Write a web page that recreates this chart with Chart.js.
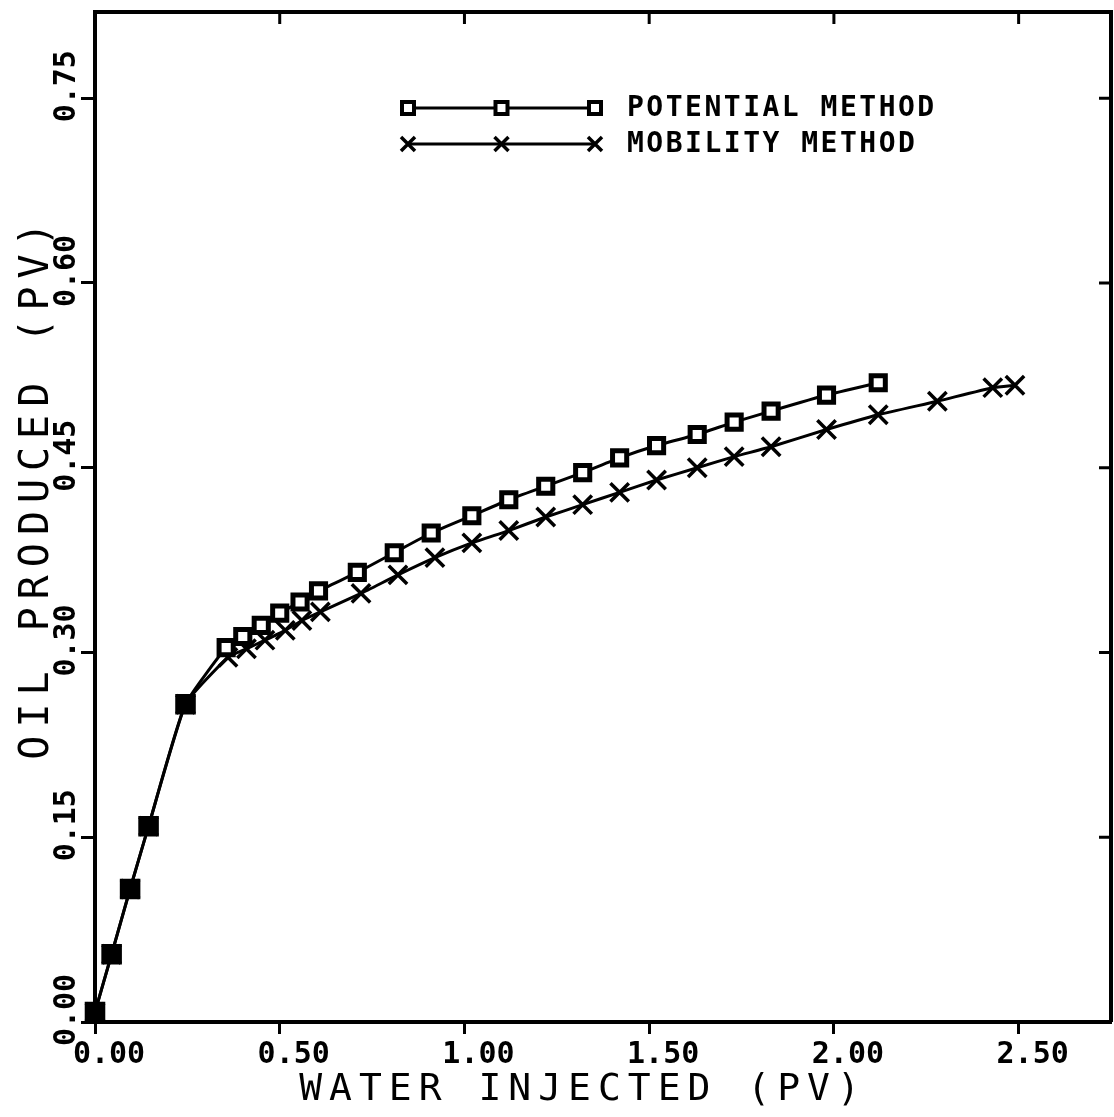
<!DOCTYPE html>
<html>
<head>
<meta charset="utf-8">
<script src="https://cdn.jsdelivr.net/npm/chart.js@4.4.1/dist/chart.umd.min.js"></script>
<style>
  html, body { margin: 0; padding: 0; background: #fff; }
</style>
</head>
<body>
<canvas id="oilChart" width="1114" height="1117"></canvas>
<script>
// water injected (PV) / oil produced (PV)
const potentialX = [0, 0.045, 0.095, 0.145, 0.245, 0.355, 0.40, 0.45, 0.50, 0.555, 0.605, 0.71, 0.81, 0.91,
    1.02, 1.12, 1.22, 1.32, 1.42, 1.52, 1.63, 1.73, 1.83, 1.98, 2.12];
const potentialY = [0.008, 0.055, 0.108, 0.159, 0.258, 0.304, 0.313, 0.322, 0.332, 0.341, 0.350, 0.365, 0.381, 0.397,
    0.411, 0.424, 0.435, 0.446, 0.458, 0.468, 0.477, 0.487, 0.496, 0.509, 0.519];
const mobilityX = [0, 0.045, 0.095, 0.145, 0.245, 0.36, 0.41, 0.46, 0.515, 0.56, 0.61, 0.72, 0.82, 0.92,
    1.02, 1.12, 1.22, 1.32, 1.42, 1.52, 1.63, 1.73, 1.83, 1.98, 2.12, 2.28, 2.43, 2.49];
const mobilityY = [0.008, 0.055, 0.108, 0.159, 0.258, 0.296, 0.303, 0.310, 0.318, 0.326, 0.333, 0.348, 0.363, 0.377,
    0.389, 0.399, 0.410, 0.420, 0.430, 0.440, 0.450, 0.459, 0.467, 0.481, 0.493, 0.504, 0.515, 0.517];

const xTickValues = [0, 0.5, 1.0, 1.5, 2.0, 2.5];
const xTickLabels = ["0.00", "0.50", "1.00", "1.50", "2.00", "2.50"];
const yTickValues = [0, 0.15, 0.30, 0.45, 0.60, 0.75];
const yTickLabels = ["0.00", "0.15", "0.30", "0.45", "0.60", "0.75"];

const seriesNames = ["POTENTIAL METHOD", "MOBILITY METHOD"];
const xTitle = "WATER INJECTED (PV)";
const yTitle = "OIL PRODUCED (PV)";

const MONO = "'DejaVu Sans Mono', monospace";

function toPoints(xs, ys) {
    return xs.map((x, i) => ({ x: x, y: ys[i] }));
}

function drawMark(ctx, style, cx, cy, r) {
    ctx.beginPath();
    if (style === "rect") {
        ctx.fillStyle = "#fff";
        ctx.rect(cx - r, cy - r, 2 * r, 2 * r);
        ctx.fill();
        ctx.stroke();
    } else {
        ctx.moveTo(cx - r, cy - r); ctx.lineTo(cx + r, cy + r);
        ctx.moveTo(cx + r, cy - r); ctx.lineTo(cx - r, cy + r);
        ctx.stroke();
    }
}

// frame, inward ticks on top/right, axis titles and the legend
const paperDecor = {
    id: "paperDecor",
    afterDraw(chart) {
        const { ctx, chartArea: a, scales: { x, y } } = chart;
        ctx.save();
        ctx.strokeStyle = "#000";
        ctx.fillStyle = "#000";
        ctx.lineWidth = 4;
        ctx.beginPath();
        ctx.moveTo(a.left, a.top);
        ctx.lineTo(a.right, a.top);
        ctx.lineTo(a.right, a.bottom);
        ctx.stroke();

        ctx.lineWidth = 3;
        ctx.beginPath();
        x.ticks.forEach(t => {
            if (t.value === 0) return;
            const px = x.getPixelForValue(t.value);
            ctx.moveTo(px, a.top);
            ctx.lineTo(px, a.top + 12);
        });
        y.ticks.forEach(t => {
            if (t.value === 0) return;
            const py = y.getPixelForValue(t.value);
            ctx.moveTo(a.right, py);
            ctx.lineTo(a.right - 12, py);
        });
        ctx.stroke();

        // axis titles
        ctx.font = "38px " + MONO;
        ctx.letterSpacing = "7px";
        ctx.textAlign = "center";
        ctx.textBaseline = "middle";
        ctx.fillText(xTitle, a.left + 488, a.bottom + 68);
        ctx.save();
        ctx.translate(38, a.top + 475);
        ctx.rotate(-Math.PI / 2);
        ctx.font = "40px " + MONO;
        ctx.letterSpacing = "8px";
        ctx.fillText(yTitle, 0, 0);
        ctx.restore();

        // legend
        const styles = ["rect", "crossRot"];
        const x0 = a.left + 313, x1 = a.left + 500;
        ctx.font = "bold 28px " + MONO;
        ctx.letterSpacing = "2.5px";
        ctx.textAlign = "left";
        chart.data.datasets.forEach((ds, i) => {
            const ly = a.top + 96 + i * 36;
            ctx.lineWidth = 3;
            ctx.beginPath();
            ctx.moveTo(x0, ly);
            ctx.lineTo(x1, ly);
            ctx.stroke();
            [x0, (x0 + x1) / 2, x1].forEach(mx => {
                ctx.lineWidth = styles[i] === "rect" ? 4 : 3.5;
                drawMark(ctx, styles[i], mx, ly, styles[i] === "rect" ? 6 : 7);
            });
            ctx.fillStyle = "#000";
            ctx.fillText(ds.label, a.left + 532, ly + 1);
        });
        ctx.restore();
    }
};

const ctx = document.getElementById("oilChart").getContext("2d");
new Chart(ctx, {
    type: "line",
    data: {
        datasets: [{
            label: seriesNames[0],
            data: toPoints(potentialX, potentialY),
            borderColor: "#000",
            borderWidth: 3,
            pointStyle: "rect",
            pointRadius: c => (c.raw && c.raw.x <= 0.25 ? 11 : 10),
            pointBorderWidth: 5,
            pointBorderColor: "#000",
            pointBackgroundColor: c => (c.raw && c.raw.x <= 0.25 ? "#000" : "#fff"),
            tension: 0.15,
            clip: false,
        }, {
            label: seriesNames[1],
            data: toPoints(mobilityX, mobilityY),
            borderColor: "#000",
            borderWidth: 3,
            pointStyle: "crossRot",
            pointRadius: 13,
            pointBorderWidth: 3.5,
            pointBorderColor: "#000",
            tension: 0.15,
            clip: false,
        }],
    },
    options: {
        responsive: false,
        animation: false,
        layout: { autoPadding: false, padding: { top: 12, right: 3, left: 0, bottom: 0 } },
        plugins: {
            legend: { display: false },
            tooltip: { enabled: false },
        },
        scales: {
            x: {
                type: "linear",
                min: 0,
                max: 2.75,
                afterFit: s => { s.height = 95; s.paddingLeft = 0; s.paddingRight = 0; },
                afterBuildTicks: s => { s.ticks = xTickValues.map(v => ({ value: v })); },
                border: { display: true, color: "#000", width: 4 },
                grid: { drawOnChartArea: false, drawTicks: true, tickLength: 12, tickWidth: 3, tickColor: "#000" },
                ticks: {
                    callback: (v, i) => xTickLabels[i],
                    color: "#000",
                    font: { family: MONO, size: 30, weight: "bold" },
                    padding: 3,
                    labelOffset: 14,
                    maxRotation: 0,
                },
            },
            y: {
                type: "linear",
                min: 0,
                max: 0.82,
                afterFit: s => { s.width = 95; s.paddingTop = 0; s.paddingBottom = 0; },
                afterBuildTicks: s => { s.ticks = yTickValues.map(v => ({ value: v })); },
                border: { display: true, color: "#000", width: 4 },
                grid: { drawOnChartArea: false, drawTicks: true, tickLength: 14, tickWidth: 3, tickColor: "#000" },
                ticks: {
                    callback: (v, i) => yTickLabels[i],
                    color: "#000",
                    font: { family: MONO, size: 30, weight: "bold" },
                    minRotation: 90,
                    maxRotation: 90,
                    crossAlign: "center",
                    padding: -22,
                    labelOffset: -12,
                },
            },
        },
    },
    plugins: [paperDecor],
});
</script>
</body>
</html>
